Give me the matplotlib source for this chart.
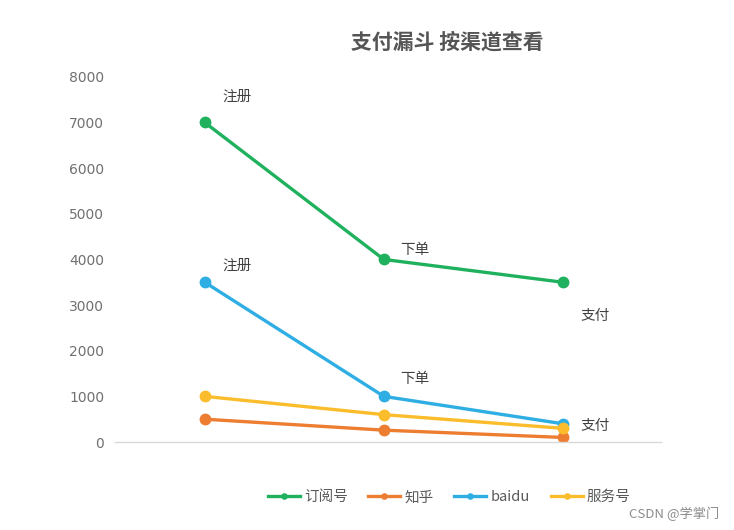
import matplotlib.pyplot as plt

plt.rcParams['font.family'] = ['Noto Sans CJK SC', 'DejaVu Sans']

# funnel steps and channel values
steps = ["注册", "下单", "支付"]
dingyuehao = [7000, 4000, 3500]
zhihu = [500, 260, 100]
baidu = [3500, 1000, 400]
fuwuhao = [1000, 600, 300]

series_names = ["订阅号", "知乎", "baidu", "服务号"]
series_colors = ["#20b15e", "#ed7d31", "#2eaee3", "#fbbd2c"]

# step labels are only drawn for two of the channels
green_label_pos = [(0.1, 7560), (1.09, 4210), (2.1, 2760)]
blue_label_pos = [(0.1, 3860), (1.09, 1380), (2.1, 350)]

fig = plt.figure(figsize=(7.34, 5.30), dpi=100)
ax = fig.add_axes([0.157, 0.166, 0.744, 0.689])

x = list(range(len(steps)))
for vals, name, col in zip([dingyuehao, zhihu, baidu, fuwuhao], series_names, series_colors):
    ax.plot(x, vals, color=col, lw=2.4, marker="o", ms=7.5, label=name)

for (px, py), s in zip(green_label_pos, steps):
    ax.text(px, py, s, fontsize=10.5, color="#404040", va="center", ha="left")
for (px, py), s in zip(blue_label_pos, steps):
    ax.text(px, py, s, fontsize=10.5, color="#404040", va="center", ha="left")

ax.set_xlim(-0.5, 2.55)
ax.set_ylim(0, 8000)
ax.set_yticks(range(0, 8001, 1000))
ax.set_xticks([])
ax.tick_params(axis="y", length=0, labelsize=10, labelcolor="#707070", pad=8)
for lab in ax.get_yticklabels():
    lab.set_family("DejaVu Sans")
for sp in ["top", "right", "left"]:
    ax.spines[sp].set_visible(False)
ax.spines["bottom"].set_color("#d9d9d9")
ax.spines["bottom"].set_linewidth(1)

fig.text(0.609, 0.92, "支付漏斗 按渠道查看", fontsize=15, color="#555555",
         ha="center", va="center", fontweight="bold")

leg = fig.legend(loc="center", bbox_to_anchor=(0.612, 0.062), ncol=4, frameon=False,
                 fontsize=10.5, handlelength=2.2, columnspacing=1.4, handletextpad=0.3,
                 markerscale=0.5)
for t in leg.get_texts():
    t.set_color("#595959")

fig.text(0.98, 0.03, "CSDN @学掌门", fontsize=9.5, color="#8c8c8c", ha="right", va="center")

fig.savefig("out.png", dpi=100)
